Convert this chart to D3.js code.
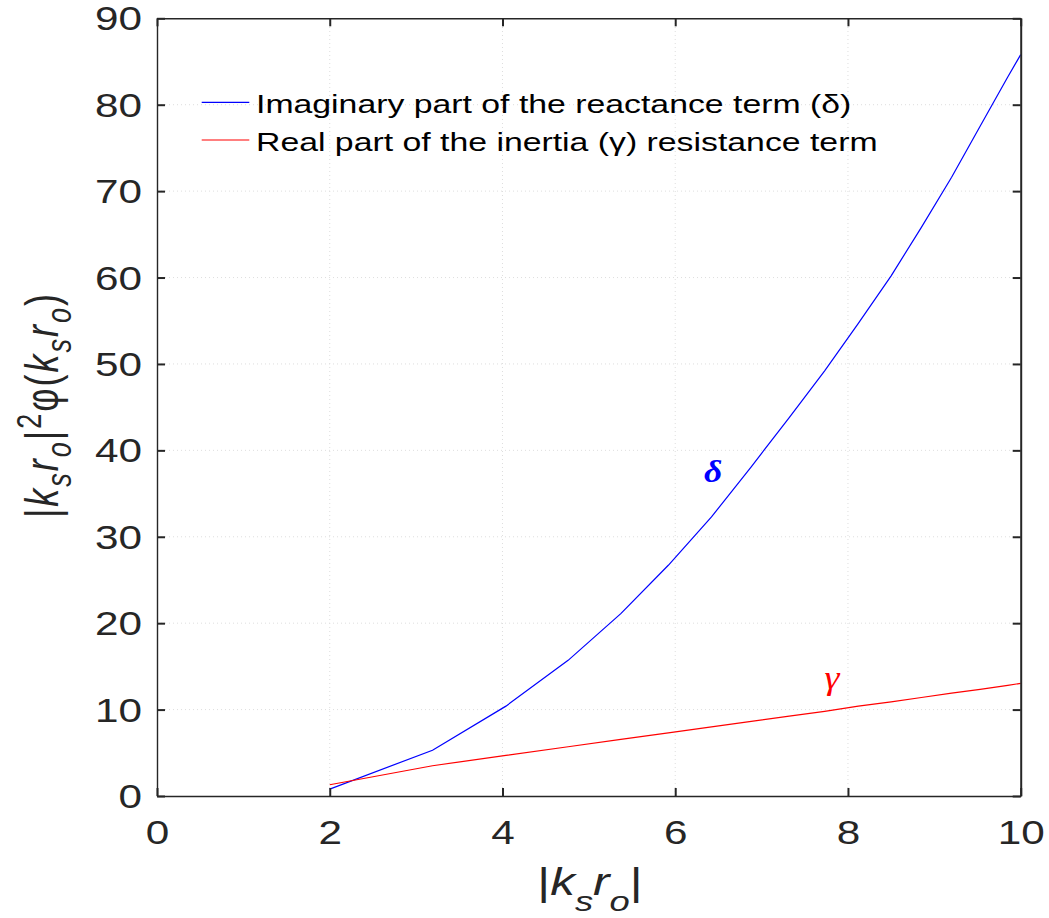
<!DOCTYPE html>
<html>
<head>
<meta charset="utf-8">
<script src="https://cdn.jsdelivr.net/npm/d3@7"></script>
<style>
  html, body { margin: 0; padding: 0; background: #ffffff; }
  svg { display: block; }
</style>
</head>
<body>
<svg id="chart" width="1049" height="918"></svg>
<script>
// ---- data ----
const xValues = [2, 3.19, 4.04, 4.76, 5.37, 5.92, 6.42, 6.88, 7.32, 7.73, 8.12, 8.50, 8.85, 9.20, 9.53, 9.85, 10];
const deltaValues = [0.8, 5.3, 10.4, 15.7, 21.1, 26.7, 32.3, 38.1, 43.8, 49.2, 54.7, 60.2, 65.8, 71.6, 77.5, 83.2, 85.8];
const gammaValues = [1.3, 3.5, 4.7, 5.7, 6.55, 7.3, 8.0, 8.63, 9.25, 9.8, 10.4, 10.9, 11.4, 11.9, 12.35, 12.8, 13.04];
const xTicks = [0, 2, 4, 6, 8, 10];
const yTicks = [0, 10, 20, 30, 40, 50, 60, 70, 80, 90];
const legendLabels = ["Imaginary part of the reactance term (\u03b4)", "Real part of the inertia (\u03b3) resistance term"];
const seriesColors = ["#0000ff", "#ff0000"];

// ---- layout ----
const L = 157, R = 1020.7, T = 18.3, B = 796;
const SX = 1.3; // horizontal stretch of the text in the reference
const axisColor = "#262626";

const svg = d3.select("#chart");
const x = d3.scaleLinear().domain([0, 10]).range([L, R]);
const y = d3.scaleLinear().domain([0, 90]).range([B, T]);

// grid
const grid = svg.append("g").attr("stroke", "#dedede").attr("stroke-width", 1).attr("stroke-dasharray", "1,3");
grid.selectAll(".gx").data(xTicks.filter(d => d > 0 && d < 10)).join("line")
  .attr("x1", d => x(d)).attr("x2", d => x(d)).attr("y1", B).attr("y2", T);
grid.selectAll(".gy").data(yTicks.filter(d => d > 0 && d < 90)).join("line")
  .attr("y1", d => y(d)).attr("y2", d => y(d)).attr("x1", L).attr("x2", R);

// lines
const pts = (vals) => xValues.map((v, i) => [v, vals[i]]);
const line = d3.line().x(d => x(d[0])).y(d => y(d[1]));
svg.append("path").datum(pts(deltaValues)).attr("d", line)
  .attr("fill", "none").attr("stroke", seriesColors[0]).attr("stroke-width", 1.2);
svg.append("path").datum(pts(gammaValues)).attr("d", line)
  .attr("fill", "none").attr("stroke", seriesColors[1]).attr("stroke-width", 1.2);

// axes
const fontSans = "'Liberation Sans', Arial, Helvetica, sans-serif";
function styleAxis(g, w) {
  g.attr("color", axisColor);
  g.select(".domain").attr("stroke-width", w);
  g.selectAll(".tick line").attr("stroke-width", 2);
}
const gx = svg.append("g").attr("transform", `translate(0,${B})`)
  .call(d3.axisBottom(x).tickValues(xTicks).tickSizeInner(-8).tickSizeOuter(0).tickFormat(d3.format("d")));
styleAxis(gx, 1.6);
gx.selectAll(".tick text").attr("y", 48.5).attr("dy", null)
  .attr("font-family", fontSans).attr("font-size", 32.5).attr("fill", axisColor)
  .attr("transform", `scale(${SX},1)`);

const gy = svg.append("g").attr("transform", `translate(${L},0)`)
  .call(d3.axisLeft(y).tickValues(yTicks).tickSizeInner(-8).tickSizeOuter(0).tickFormat(d3.format("d")));
styleAxis(gy, 1.4);
gy.selectAll(".tick text").attr("x", -15 / SX).attr("y", 11.5).attr("dy", null)
  .attr("font-family", fontSans).attr("font-size", 32.5).attr("fill", axisColor)
  .attr("transform", `scale(${SX},1)`);

const gt = svg.append("g").attr("transform", `translate(0,${T})`)
  .call(d3.axisTop(x).tickValues(xTicks).tickSizeInner(-8).tickSizeOuter(0).tickFormat(""));
styleAxis(gt, 1.6);
const gr = svg.append("g").attr("transform", `translate(${R},0)`)
  .call(d3.axisRight(y).tickValues(yTicks).tickSizeInner(-8).tickSizeOuter(0).tickFormat(""));
styleAxis(gr, 2);

// legend
const legendY = [102.3, 140];
const lg = svg.append("g");
legendLabels.forEach((lab, i) => {
  lg.append("line").attr("x1", 201.7).attr("x2", 249.3).attr("y1", legendY[i]).attr("y2", legendY[i])
    .attr("stroke", seriesColors[i]).attr("stroke-width", 1.2);
  lg.append("g").attr("transform", `translate(256,${legendY[i] + 11}) scale(${SX},1)`)
    .append("text").attr("font-family", fontSans).attr("font-size", 26).attr("fill", "#000")
    .text(lab);
});

// curve annotations
const serif = "'Liberation Serif', 'Times New Roman', serif";
svg.append("g").attr("transform", `translate(713,481.5) scale(1.15,1)`)
  .append("text").attr("text-anchor", "middle")
  .attr("font-family", serif).attr("font-style", "italic").attr("font-weight", "bold")
  .attr("font-size", 31).attr("fill", seriesColors[0]).text("\u03b4");
svg.append("g").attr("transform", `translate(832,688.5) scale(1.15,1)`)
  .append("text").attr("text-anchor", "middle")
  .attr("font-family", serif).attr("font-style", "italic")
  .attr("font-size", 33).attr("fill", seriesColors[1]).text("\u03b3");

// axis labels
function addParts(text, parts, big, small, shift) {
  let cur = 0;
  parts.forEach(p => {
    const t = text.append("tspan").text(p.t);
    const target = p.sub ? shift : (p.sup ? -shift * 1.3 : 0);
    const dy = target - cur;
    if (dy !== 0) t.attr("dy", dy);
    cur = target;
    t.attr("font-size", (p.sub || p.sup) ? small : big);
    if (p.it) t.attr("font-style", "italic");
  });
}
const xl = svg.append("g").attr("transform", `translate(590,895) scale(${SX},1)`)
  .append("text").attr("text-anchor", "middle").attr("font-family", fontSans).attr("fill", axisColor);
addParts(xl, [
  {t: "|"}, {t: "k", it: true}, {t: "s", it: true, sub: true}, {t: "r", it: true}, {t: "o", it: true, sub: true}, {t: "|"}
], 38, 28, 16);

const yl = svg.append("g").attr("transform", `translate(58,405) scale(${SX},1) rotate(-90)`)
  .append("text").attr("text-anchor", "middle").attr("font-family", fontSans).attr("fill", axisColor)
  .attr("letter-spacing", 2);
addParts(yl, [
  {t: "|"}, {t: "k", it: true}, {t: "s", it: true, sub: true}, {t: "r", it: true}, {t: "o", it: true, sub: true}, {t: "|"},
  {t: "2", sup: true}, {t: "\u03c6("}, {t: "k", it: true}, {t: "s", it: true, sub: true}, {t: "r", it: true}, {t: "o", it: true, sub: true}, {t: ")"}
], 36, 27, 10);
</script>
</body>
</html>
